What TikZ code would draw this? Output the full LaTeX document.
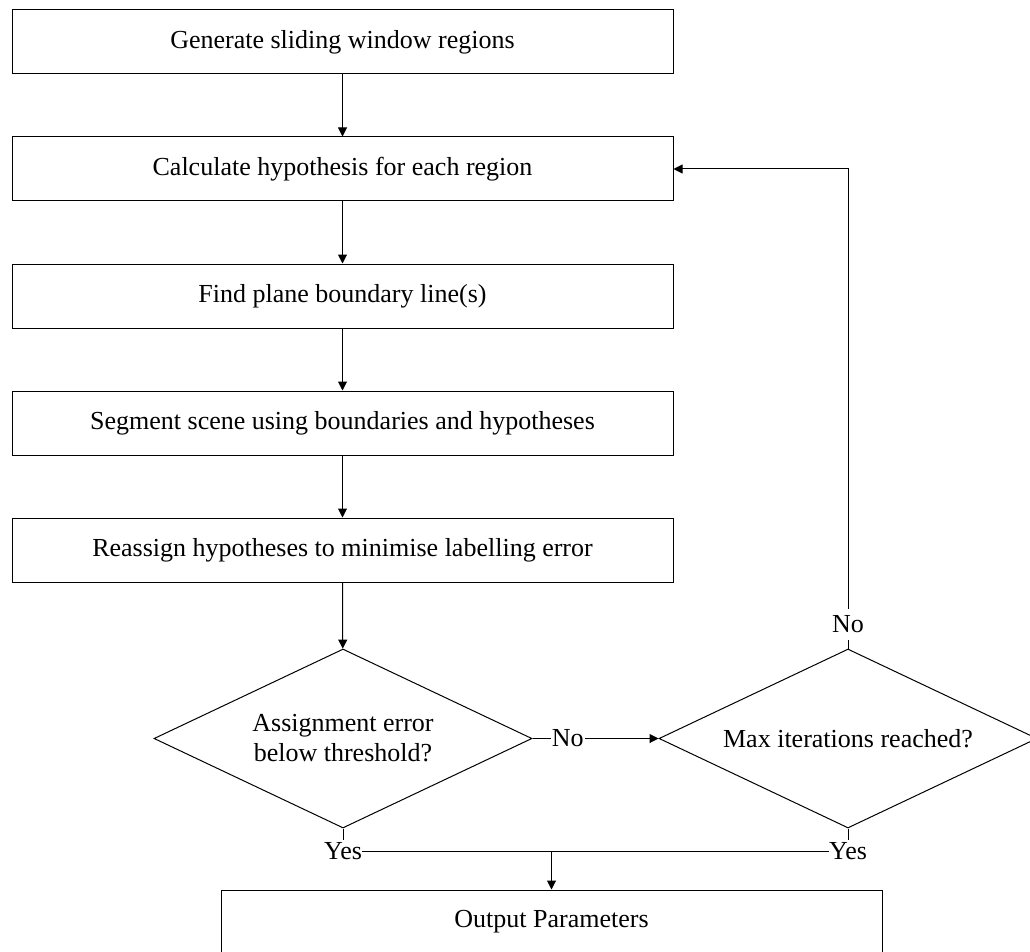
\documentclass[tikz,border=0pt]{standalone}
\usepackage{fontspec}
\setmainfont{Liberation Serif}
\usetikzlibrary{shapes.geometric,arrows.meta}
\begin{document}
\begin{tikzpicture}[x=1pt,y=-1pt,line width=1pt,
  every node/.style={font=\fontsize{26}{30}\selectfont},
  box/.style={draw,minimum width=661pt,minimum height=64pt,inner sep=0pt},
  dec/.style={draw,shape=diamond,minimum width=378pt,minimum height=179pt,inner sep=0pt,aspect=2.1,align=center},
  lbl/.style={fill=white,inner xsep=1pt,inner ysep=7pt},
  yeslbl/.style={inner xsep=0pt,inner ysep=2pt},
  arr/.style={-{Triangle[length=9pt,width=9pt]}}]
\useasboundingbox (0,0) rectangle (1030,952);
\clip (0,0) rectangle (1030,952);
\node[box] (b1) at (342.5,42) {Generate sliding window regions};
\node[box] (b2) at (342.5,169) {Calculate hypothesis for each region};
\node[box] (b3) at (342.5,296) {Find plane boundary line(s)};
\node[box] (b4) at (342.5,423) {Segment scene using boundaries and hypotheses};
\node[box] (b5) at (342.5,550) {Reassign hypotheses to minimise labelling error};
\node[dec] (d1) at (343,738.5) {Assignment error\\below threshold?};
\node[dec] (d2) at (848,738.5) {Max iterations reached?};
\node[box] (out) at (551.5,922) {Output Parameters};
\node[yeslbl] (y1) at (343,851) {Yes};
\node[yeslbl] (y2) at (848,851) {Yes};
\draw[arr] (b1) -- (b2);
\draw[arr] (b2) -- (b3);
\draw[arr] (b3) -- (b4);
\draw[arr] (b4) -- (b5);
\draw[arr] (b5) -- (d1);
\draw[arr] (d1.east) -- node[lbl,pos=0.28]{No} (d2.west);
\draw[arr] (d2.north) -- node[lbl,pos=0.05]{No} (d2.north |- b2.east) -- (b2.east);
\draw (d1.south) -- (y1.north);
\draw (d2.south) -- (y2.north);
\draw (y1.east) -- (y2.west);
\coordinate (j) at (out.north |- y1.east);
\draw[arr] (j) -- (out.north);
\end{tikzpicture}
\end{document}
